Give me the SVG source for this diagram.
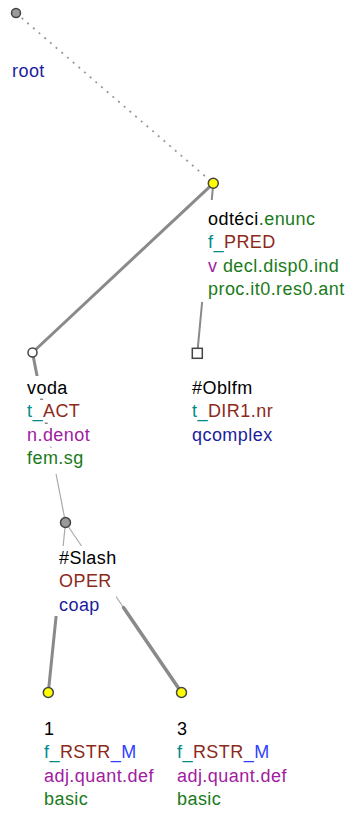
<svg xmlns="http://www.w3.org/2000/svg" width="350" height="813" viewBox="0 0 350 813">
<style>
text{font-family:"Liberation Sans",Arial,sans-serif;font-size:18px;letter-spacing:0.45px;fill:#000}
.bg{fill:#fff}
.k{fill:#000}.tl{fill:#008b8b}.br{fill:#8b2a1a}.bl{fill:#2f3fff}.pu{fill:#a020a0}.gr{fill:#1a7a1a}.nv{fill:#1c1c9c}
.e{stroke:#8a8a8a;fill:none;stroke-linecap:round}
.thin{stroke:#aaaaaa;stroke-width:1.2;fill:none}
.dot{stroke:#999999;stroke-width:1.8;stroke-dasharray:2 5.5;fill:none}
.n{stroke:#444;stroke-width:1.5}
</style>
<g id="connectors">
<line class="dot" x1="16" y1="13" x2="213.3" y2="183.3"/>
<line class="e" stroke-width="3" x1="213.3" y1="183.3" x2="32.5" y2="352.5"/>
<line class="e" stroke-width="2" x1="213.3" y1="183.3" x2="197.3" y2="353.3"/>
<line class="e" stroke-width="3" x1="32.5" y1="352.5" x2="49" y2="437.5"/>
<line class="thin" x1="49" y1="437.5" x2="65.5" y2="522.5"/>
<line class="thin" x1="65.5" y1="522.5" x2="57" y2="607.5"/>
<line class="e" stroke-width="3" x1="57" y1="607.5" x2="48.3" y2="692.5"/>
<line class="thin" x1="65.5" y1="522.5" x2="123.5" y2="607.5"/>
<line class="e" stroke-width="3.5" x1="123.5" y1="607.5" x2="181.5" y2="692.5"/>
</g>
<g id="root">
<circle class="n" cx="16" cy="13" r="4.5" fill="#9a9a9a"/>
<rect class="bg" x="10" y="60" width="36" height="22"/>
<text x="12" y="77" class="nv">root</text>
</g>
<g id="odteci">
<circle class="n" cx="213.3" cy="183.3" r="5" fill="#ffff00"/>
<rect class="bg" x="200" y="200" width="150" height="102"/>
<text x="208" y="224.5">odtéci<tspan class="gr">.enunc</tspan></text>
<text x="208" y="248"><tspan class="tl">f_</tspan><tspan class="br">PRED</tspan></text>
<text x="208" y="271.5"><tspan class="pu">v</tspan> <tspan class="gr">decl.disp0.ind</tspan></text>
<text x="208" y="295" class="gr">proc.it0.res0.ant</text>
</g>
<g id="voda">
<circle class="n" cx="32.5" cy="352.5" r="4.5" fill="#ffffff"/>
<rect class="bg" x="24" y="376" width="70" height="22.5"/>
<rect class="bg" x="24" y="400" width="70" height="22.5"/>
<rect class="bg" x="24" y="424" width="70" height="22.5"/>
<rect class="bg" x="24" y="448" width="70" height="26"/>
<text x="27" y="393.5">voda</text>
<text x="27" y="417"><tspan class="tl">t_</tspan><tspan class="br">ACT</tspan></text>
<text x="27" y="440.5" class="pu">n.denot</text>
<text x="27" y="464" class="gr">fem.sg</text>
</g>
<g id="oblfm">
<rect class="n" x="192.3" y="348.3" width="10" height="10" fill="#ffffff"/>
<rect class="bg" x="189" y="376" width="90" height="72"/>
<text x="192" y="393.5">#Oblfm</text>
<text x="192" y="417"><tspan class="tl">t_</tspan><tspan class="br">DIR1.nr</tspan></text>
<text x="192" y="440.5" class="nv">qcomplex</text>
</g>
<g id="slash">
<circle class="n" cx="65.5" cy="522.5" r="5" fill="#9a9a9a"/>
<rect class="bg" x="54" y="546" width="62" height="70"/>
<text x="59" y="563.5">#Slash</text>
<text x="59" y="587" class="br">OPER</text>
<text x="59" y="610.5" class="nv">coap</text>
</g>
<g id="n1">
<circle class="n" cx="48.3" cy="692.5" r="5" fill="#ffff00"/>
<text x="44" y="734.5">1</text>
<text x="44" y="758"><tspan class="tl">f_</tspan><tspan class="br">RSTR</tspan><tspan class="bl">_M</tspan></text>
<text x="44" y="781.5" class="pu">adj.quant.def</text>
<text x="44" y="805" class="gr">basic</text>
</g>
<g id="n3">
<circle class="n" cx="181.5" cy="692.5" r="5" fill="#ffff00"/>
<text x="177" y="734.5">3</text>
<text x="177" y="758"><tspan class="tl">f_</tspan><tspan class="br">RSTR</tspan><tspan class="bl">_M</tspan></text>
<text x="177" y="781.5" class="pu">adj.quant.def</text>
<text x="177" y="805" class="gr">basic</text>
</g>
</svg>
